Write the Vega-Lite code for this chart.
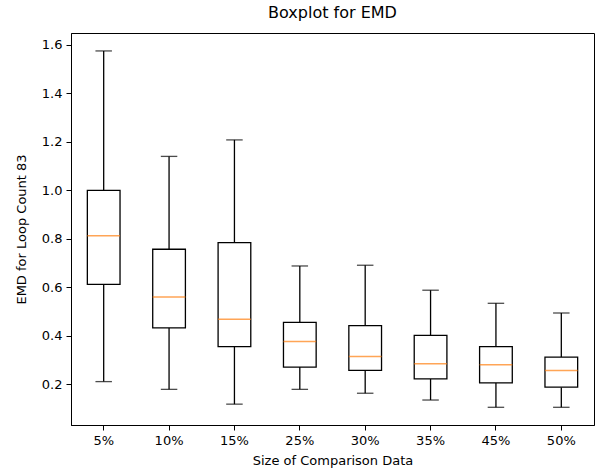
{
  "$schema": "https://vega.github.io/schema/vega-lite/v6.json",
  "autosize": "none",
  "width": 523,
  "height": 392,
  "padding": {"left": 71, "top": 33, "right": 6, "bottom": 46},
  "background": "white",
  "title": {"text": "Boxplot for EMD", "font": "DejaVu Sans", "fontSize": 16, "fontWeight": "normal", "color": "black", "offset": 12},
  "config": {
    "view": {"stroke": "black", "strokeWidth": 1},
    "axis": {
      "labelFont": "DejaVu Sans", "labelFontSize": 13, "labelColor": "black",
      "titleFont": "DejaVu Sans", "titleFontSize": 13, "titleFontWeight": "normal", "titleColor": "black",
      "domainColor": "black", "tickColor": "black", "tickSize": 5, "labelPadding": 4, "grid": false
    }
  },
  "data": {"values": [
    {"group": "5%", "lower": 0.210, "q1": 0.611, "median": 0.812, "q3": 0.999, "upper": 1.574},
    {"group": "10%", "lower": 0.178, "q1": 0.432, "median": 0.559, "q3": 0.756, "upper": 1.139},
    {"group": "15%", "lower": 0.117, "q1": 0.354, "median": 0.467, "q3": 0.783, "upper": 1.207},
    {"group": "25%", "lower": 0.178, "q1": 0.270, "median": 0.375, "q3": 0.454, "upper": 0.687},
    {"group": "30%", "lower": 0.162, "q1": 0.256, "median": 0.314, "q3": 0.441, "upper": 0.690},
    {"group": "35%", "lower": 0.134, "q1": 0.221, "median": 0.284, "q3": 0.401, "upper": 0.587},
    {"group": "45%", "lower": 0.104, "q1": 0.205, "median": 0.280, "q3": 0.354, "upper": 0.533},
    {"group": "50%", "lower": 0.104, "q1": 0.187, "median": 0.256, "q3": 0.311, "upper": 0.493}
  ]},
  "encoding": {
    "x": {"field": "group", "type": "nominal", "sort": null,
      "scale": {"paddingInner": 0, "paddingOuter": 0},
      "axis": {"title": "Size of Comparison Data", "labelAngle": 0, "bandPosition": 0.5, "titlePadding": 7}}
  },
  "layer": [
    {
      "mark": {"type": "rule", "color": "black", "strokeWidth": 1.3},
      "encoding": {
        "y": {"field": "lower", "type": "quantitative",
          "scale": {"domain": [0.031, 1.648], "nice": false, "zero": false},
          "axis": {"title": "EMD for Loop Count 83", "values": [0.2, 0.4, 0.6, 0.8, 1.0, 1.2, 1.4, 1.6], "format": ".1f", "titlePadding": 13}},
        "y2": {"field": "q1"}
      }
    },
    {
      "mark": {"type": "rule", "color": "black", "strokeWidth": 1.3},
      "encoding": {
        "y": {"field": "q3", "type": "quantitative"},
        "y2": {"field": "upper"}
      }
    },
    {
      "mark": {"type": "bar", "fill": "white", "stroke": "black", "strokeWidth": 1.3, "width": {"band": 0.5}},
      "encoding": {
        "y": {"field": "q1", "type": "quantitative"},
        "y2": {"field": "q3"}
      }
    },
    {
      "mark": {"type": "tick", "color": "black", "size": 16.5, "thickness": 1.3},
      "encoding": {"y": {"field": "lower", "type": "quantitative"}}
    },
    {
      "mark": {"type": "tick", "color": "black", "size": 16.5, "thickness": 1.3},
      "encoding": {"y": {"field": "upper", "type": "quantitative"}}
    },
    {
      "mark": {"type": "tick", "color": "#ff7f0e", "size": 32.7, "thickness": 1.5},
      "encoding": {"y": {"field": "median", "type": "quantitative"}}
    }
  ]
}
